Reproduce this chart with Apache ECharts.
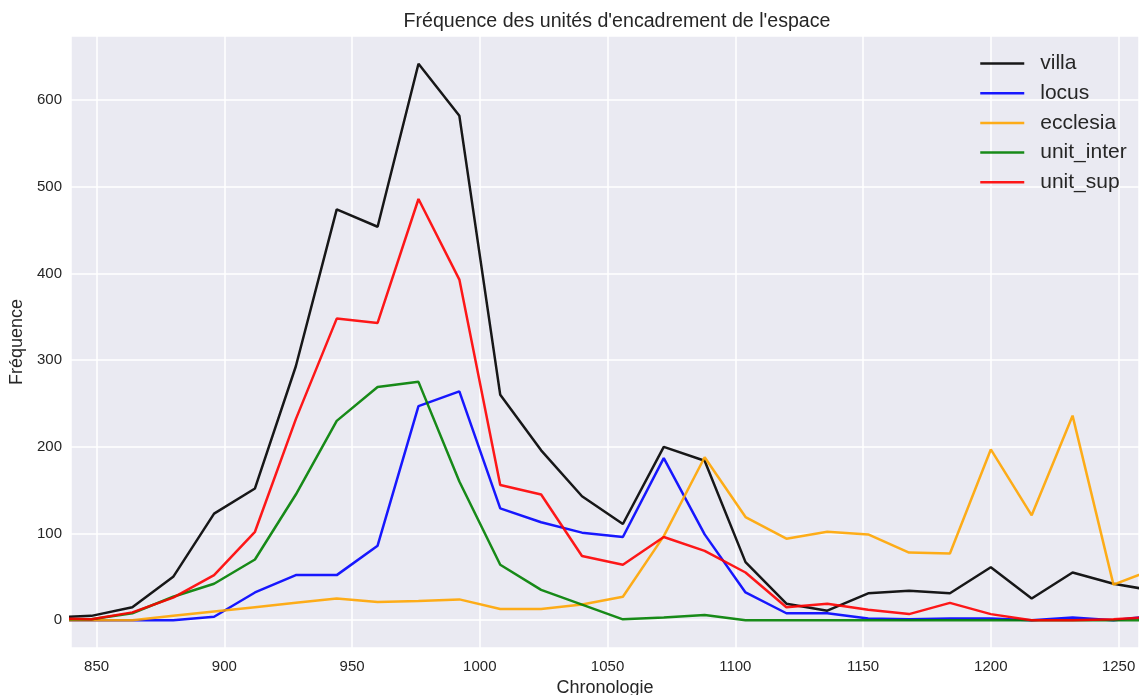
<!DOCTYPE html>
<html>
<head>
<meta charset="utf-8">
<script src="https://cdn.jsdelivr.net/npm/echarts@6/dist/echarts.min.js"></script>
<style>
  html, body { margin: 0; padding: 0; background: #fff; }
  #chart { width: 1139px; height: 695px; }
</style>
</head>
<body>
<div id="chart"></div>
<script>
// années (pas de 16 ans), premier et dernier points hors cadre
const years = [832, 848, 864, 880, 896, 912, 928, 944, 960, 976, 992, 1008, 1024, 1040,
  1056, 1072, 1088, 1104, 1120, 1136, 1152, 1168, 1184, 1200, 1216, 1232, 1248, 1264];

const villa = [3, 5, 15, 50, 123, 152, 293, 474, 454, 642, 582, 260, 196, 143,
  111, 200, 184, 67, 19, 11, 31, 34, 31, 61, 25, 55, 42, 34];
const locus = [0, 0, 0, 0, 4, 32, 52, 52, 86, 247, 264, 129, 113, 101,
  96, 187, 99, 32, 8, 8, 2, 1, 2, 2, 0, 3, 0, 5];
const ecclesia = [0, 0, 0, 5, 10, 15, 20, 25, 21, 22, 24, 13, 13, 18,
  27, 97, 188, 119, 94, 102, 99, 78, 77, 197, 121, 236, 41, 59];
const unitInter = [1, 1, 8, 27, 42, 70, 145, 230, 269, 275, 160, 64, 35, 18,
  1, 3, 6, 0, 0, 0, 0, 0, 0, 0, 0, 0, 0, 0];
const unitSup = [2, 1, 9, 26, 52, 102, 232, 348, 343, 486, 393, 156, 145, 74,
  64, 96, 80, 55, 15, 19, 12, 7, 20, 7, 0, 0, 1, 4];

const seriesNames = ['villa', 'locus', 'ecclesia', 'unit_inter', 'unit_sup'];
const seriesData = [villa, locus, ecclesia, unitInter, unitSup];
const colors = ['rgba(0,0,0,0.9)', 'rgba(0,0,255,0.9)', 'rgba(255,165,0,0.9)',
  'rgba(0,128,0,0.9)', 'rgba(255,0,0,0.9)'];

const textColor = '#262626';
const font = 'Liberation Sans, Arial, sans-serif';

const chart = echarts.init(document.getElementById('chart'));
chart.setOption({
  animation: false,
  color: colors,
  title: {
    text: "Fréquence des unités d'encadrement de l'espace",
    left: 612,
    top: 7,
    textAlign: 'center',
    textStyle: { fontFamily: font, fontSize: 19.6, fontWeight: 'normal', color: textColor }
  },
  grid: {
    left: 71, right: 0, top: 36, bottom: 47,
    containLabel: false, outerBoundsMode: 'none',
    backgroundColor: '#EAEAF2', show: true, borderWidth: 0
  },
  legend: {
    orient: 'vertical',
    left: 974,
    top: 48,
    itemWidth: 44,
    itemHeight: 20,
    itemGap: 8.7,
    itemStyle: { opacity: 0 },
    lineStyle: { width: 2.5 },
    textStyle: { fontFamily: font, fontSize: 21, color: textColor, padding: [0, 0, 0, 11] },
    data: seriesNames
  },
  xAxis: {
    type: 'value',
    min: 840,
    max: 1258,
    splitNumber: 8,
    name: 'Chronologie',
    nameLocation: 'middle',
    nameGap: 30,
    nameTextStyle: { fontFamily: font, fontSize: 18, color: textColor },
    axisLine: { show: false },
    axisTick: { show: false },
    axisLabel: {
      fontFamily: font, fontSize: 15, color: textColor, margin: 11,
      showMinLabel: false, showMaxLabel: false,
      formatter: v => String(v)
    },
    splitLine: { show: true, lineStyle: { color: '#fff', width: 1.5 } }
  },
  yAxis: {
    type: 'value',
    min: -32.1,
    max: 674.1,
    splitNumber: 7,
    name: 'Fréquence',
    nameLocation: 'middle',
    nameGap: 41,
    nameRotate: 90,
    nameTextStyle: { fontFamily: font, fontSize: 18, color: textColor },
    axisLine: { show: false },
    axisTick: { show: false },
    axisLabel: {
      fontFamily: font, fontSize: 15, color: textColor, margin: 9,
      showMinLabel: false, showMaxLabel: false,
      formatter: v => String(v)
    },
    splitLine: { show: true, lineStyle: { color: '#fff', width: 1.5 } }
  },
  series: seriesNames.map((name, i) => ({
    name: name,
    type: 'line',
    symbol: 'none',
    clip: true,
    lineStyle: { width: 2.5, color: colors[i] },
    itemStyle: { color: colors[i] },
    data: years.map((y, k) => [y, seriesData[i][k]])
  }))
});
window.addEventListener('resize', chart.resize);
</script>
</body>
</html>
